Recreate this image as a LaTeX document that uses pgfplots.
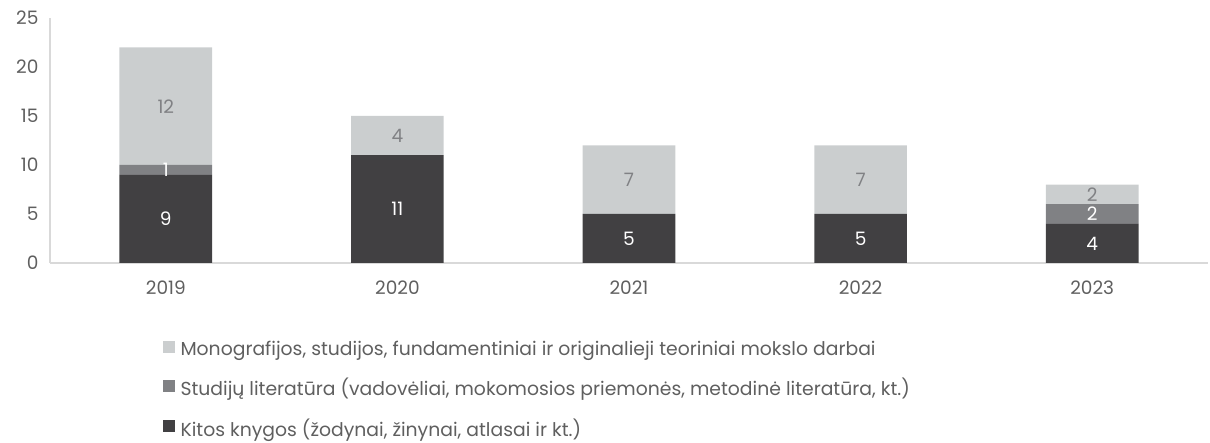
\documentclass[border=0pt]{standalone}
\usepackage{fontspec}
\setmainfont{Poppins}
\usepackage{pgfplots}
\pgfplotsset{compat=1.18}
\definecolor{cLight}{HTML}{CBCECF}
\definecolor{cMid}{HTML}{808184}
\definecolor{cDark}{HTML}{414042}
\definecolor{cAxis}{HTML}{D9D9D9}
\definecolor{cText}{HTML}{5F5F5F}
\begin{document}
\begin{tikzpicture}[x=1pt,y=1pt]
\begin{axis}[
  name=ax,
  width=1158pt, height=245pt, scale only axis,
  ybar stacked, bar width=0.4,
  xmin=-0.5, xmax=4.5, ymin=0, ymax=25,
  xtick={0,1,2,3,4}, xticklabels={2019,2020,2021,2022,2023},
  ytick={0,5,10,15,20,25},
  axis lines*=left,
  axis line style={cAxis, line width=2pt, -},
  major tick length=0pt,
  tick label style={font=\fontsize{18.5}{21}\selectfont, text=cText},
  /pgf/number format/assume math mode=true,
  xticklabel style={yshift=-14pt},
  yticklabel style={xshift=-8pt},
  visualization depends on={\thisrow{v} \as \rawy},
  nodes near coords={\ifdim\rawy pt>0pt \pgfmathprintnumber{\rawy}\fi},
  every node near coord/.append style={anchor=center, font=\fontsize{18.5}{21}\selectfont},
  reverse legend,
  legend style={at={(0.0944,-0.30)}, anchor=north west, draw=none, fill=none,
     font=\fontsize{18.8}{21}\selectfont, text=cText, row sep=17.5pt,
     cells={anchor=west}, nodes={inner xsep=6pt}},
  legend image code/.code={\fill[#1] (0pt,-4pt) rectangle (12pt,8pt);},
]
\addplot[fill=cDark, draw=none, every node near coord/.append style={text=white}] table {
x v
0 9
1 11
2 5
3 5
4 4
};
\addlegendentry{Kitos knygos (žodynai, žinynai, atlasai ir kt.)}
\addplot[fill=cMid, draw=none, every node near coord/.append style={text=white}] table {
x v
0 1
1 0
2 0
3 0
4 2
};
\addlegendentry{Studijų literatūra (vadovėliai, mokomosios priemonės, metodinė literatūra, kt.)}
\addplot[fill=cLight, draw=none, every node near coord/.append style={text=cMid}] table {
x v
0 12
1 4
2 7
3 7
4 2
};
\addlegendentry{Monografijos, studijos, fundamentiniai ir originalieji teoriniai mokslo darbai}
\end{axis}
\pgfresetboundingbox
\path[use as bounding box] ([shift={(-50pt,-180pt)}]ax.south west) rectangle ([shift={(1160pt,263pt)}]ax.south west);
\end{tikzpicture}
\end{document}
